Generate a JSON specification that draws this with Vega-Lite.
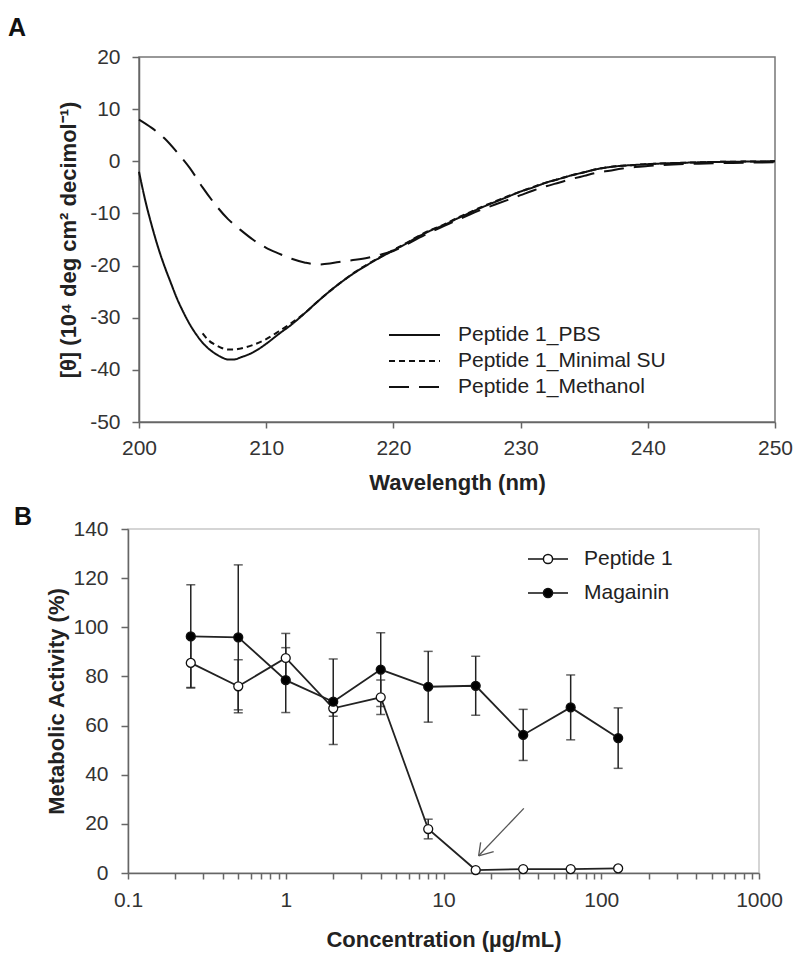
{
  "$schema": "https://vega.github.io/schema/vega-lite/v6.json",
  "background": "white",
  "padding": {"left": 7, "top": 15, "right": 5, "bottom": 5},
  "spacing": 10,
  "config": {
    "font": "Liberation Sans",
    "axis": {
      "labelFont": "Liberation Sans", "labelFontSize": 21, "labelColor": "#333",
      "titleFont": "Liberation Sans", "titleFontSize": 22, "titleFontWeight": "bold", "titleColor": "#222",
      "domainColor": "#666", "tickColor": "#666", "domainWidth": 1.5, "tickWidth": 1.5, "grid": false,
      "labelFlush": false
    },
    "legend": {"labelFont": "Liberation Sans", "labelFontSize": 21, "labelColor": "#222", "labelLimit": 400}
  },
  "datasets": {
    "cd": [
      {"wl": 200, "series": "Peptide 1_PBS", "v": -2.0},
      {"wl": 200.5, "series": "Peptide 1_PBS", "v": -7.6},
      {"wl": 201, "series": "Peptide 1_PBS", "v": -12.3},
      {"wl": 201.5, "series": "Peptide 1_PBS", "v": -16.5},
      {"wl": 202, "series": "Peptide 1_PBS", "v": -20.1},
      {"wl": 202.5, "series": "Peptide 1_PBS", "v": -23.3},
      {"wl": 203, "series": "Peptide 1_PBS", "v": -26.4},
      {"wl": 203.5, "series": "Peptide 1_PBS", "v": -29.0},
      {"wl": 204, "series": "Peptide 1_PBS", "v": -31.3},
      {"wl": 204.5, "series": "Peptide 1_PBS", "v": -33.2},
      {"wl": 205, "series": "Peptide 1_PBS", "v": -34.8},
      {"wl": 205.5, "series": "Peptide 1_PBS", "v": -36.0},
      {"wl": 206, "series": "Peptide 1_PBS", "v": -36.9},
      {"wl": 206.5, "series": "Peptide 1_PBS", "v": -37.6},
      {"wl": 207, "series": "Peptide 1_PBS", "v": -38.0},
      {"wl": 207.5, "series": "Peptide 1_PBS", "v": -38.0},
      {"wl": 208, "series": "Peptide 1_PBS", "v": -37.6},
      {"wl": 209, "series": "Peptide 1_PBS", "v": -36.6},
      {"wl": 210, "series": "Peptide 1_PBS", "v": -35.0},
      {"wl": 211, "series": "Peptide 1_PBS", "v": -33.1},
      {"wl": 212, "series": "Peptide 1_PBS", "v": -31.3},
      {"wl": 213, "series": "Peptide 1_PBS", "v": -29.2},
      {"wl": 214, "series": "Peptide 1_PBS", "v": -27.0},
      {"wl": 215, "series": "Peptide 1_PBS", "v": -24.9},
      {"wl": 216, "series": "Peptide 1_PBS", "v": -23.0},
      {"wl": 217, "series": "Peptide 1_PBS", "v": -21.3},
      {"wl": 218, "series": "Peptide 1_PBS", "v": -19.8},
      {"wl": 219, "series": "Peptide 1_PBS", "v": -18.4},
      {"wl": 220, "series": "Peptide 1_PBS", "v": -17.1},
      {"wl": 221, "series": "Peptide 1_PBS", "v": -15.8},
      {"wl": 222, "series": "Peptide 1_PBS", "v": -14.4},
      {"wl": 223, "series": "Peptide 1_PBS", "v": -13.2},
      {"wl": 224, "series": "Peptide 1_PBS", "v": -12.2},
      {"wl": 225, "series": "Peptide 1_PBS", "v": -11.0},
      {"wl": 226, "series": "Peptide 1_PBS", "v": -9.9},
      {"wl": 227, "series": "Peptide 1_PBS", "v": -8.8},
      {"wl": 228, "series": "Peptide 1_PBS", "v": -7.8},
      {"wl": 229, "series": "Peptide 1_PBS", "v": -6.8},
      {"wl": 230, "series": "Peptide 1_PBS", "v": -5.8},
      {"wl": 231, "series": "Peptide 1_PBS", "v": -5.0},
      {"wl": 232, "series": "Peptide 1_PBS", "v": -4.1},
      {"wl": 233, "series": "Peptide 1_PBS", "v": -3.4},
      {"wl": 234, "series": "Peptide 1_PBS", "v": -2.7},
      {"wl": 235, "series": "Peptide 1_PBS", "v": -2.1},
      {"wl": 236, "series": "Peptide 1_PBS", "v": -1.5},
      {"wl": 237, "series": "Peptide 1_PBS", "v": -1.1},
      {"wl": 238, "series": "Peptide 1_PBS", "v": -0.85},
      {"wl": 239, "series": "Peptide 1_PBS", "v": -0.7},
      {"wl": 240, "series": "Peptide 1_PBS", "v": -0.55},
      {"wl": 242, "series": "Peptide 1_PBS", "v": -0.35},
      {"wl": 244, "series": "Peptide 1_PBS", "v": -0.2},
      {"wl": 246, "series": "Peptide 1_PBS", "v": -0.1},
      {"wl": 248, "series": "Peptide 1_PBS", "v": -0.05},
      {"wl": 250, "series": "Peptide 1_PBS", "v": 0.0},

      {"wl": 205, "series": "Peptide 1_Minimal SU", "v": -33.0},
      {"wl": 205.5, "series": "Peptide 1_Minimal SU", "v": -34.4},
      {"wl": 206, "series": "Peptide 1_Minimal SU", "v": -35.2},
      {"wl": 206.5, "series": "Peptide 1_Minimal SU", "v": -35.8},
      {"wl": 207, "series": "Peptide 1_Minimal SU", "v": -36.1},
      {"wl": 207.5, "series": "Peptide 1_Minimal SU", "v": -36.1},
      {"wl": 208, "series": "Peptide 1_Minimal SU", "v": -35.9},
      {"wl": 209, "series": "Peptide 1_Minimal SU", "v": -35.2},
      {"wl": 210, "series": "Peptide 1_Minimal SU", "v": -34.1},
      {"wl": 211, "series": "Peptide 1_Minimal SU", "v": -32.6},
      {"wl": 212, "series": "Peptide 1_Minimal SU", "v": -31.0},
      {"wl": 213, "series": "Peptide 1_Minimal SU", "v": -29.2},
      {"wl": 214, "series": "Peptide 1_Minimal SU", "v": -27.0},
      {"wl": 215, "series": "Peptide 1_Minimal SU", "v": -24.9},
      {"wl": 216, "series": "Peptide 1_Minimal SU", "v": -23.0},
      {"wl": 217, "series": "Peptide 1_Minimal SU", "v": -21.2},
      {"wl": 218, "series": "Peptide 1_Minimal SU", "v": -19.7},
      {"wl": 219, "series": "Peptide 1_Minimal SU", "v": -18.3},
      {"wl": 220, "series": "Peptide 1_Minimal SU", "v": -17.0},
      {"wl": 221, "series": "Peptide 1_Minimal SU", "v": -15.7},
      {"wl": 222, "series": "Peptide 1_Minimal SU", "v": -14.3},
      {"wl": 223, "series": "Peptide 1_Minimal SU", "v": -13.1},
      {"wl": 224, "series": "Peptide 1_Minimal SU", "v": -12.1},
      {"wl": 225, "series": "Peptide 1_Minimal SU", "v": -10.9},
      {"wl": 226, "series": "Peptide 1_Minimal SU", "v": -9.8},
      {"wl": 227, "series": "Peptide 1_Minimal SU", "v": -8.7},
      {"wl": 228, "series": "Peptide 1_Minimal SU", "v": -7.7},
      {"wl": 229, "series": "Peptide 1_Minimal SU", "v": -6.7},
      {"wl": 230, "series": "Peptide 1_Minimal SU", "v": -5.8},
      {"wl": 231, "series": "Peptide 1_Minimal SU", "v": -4.9},
      {"wl": 232, "series": "Peptide 1_Minimal SU", "v": -4.1},
      {"wl": 233, "series": "Peptide 1_Minimal SU", "v": -3.4},
      {"wl": 234, "series": "Peptide 1_Minimal SU", "v": -2.7},
      {"wl": 235, "series": "Peptide 1_Minimal SU", "v": -2.1},
      {"wl": 236, "series": "Peptide 1_Minimal SU", "v": -1.5},
      {"wl": 237, "series": "Peptide 1_Minimal SU", "v": -1.1},
      {"wl": 238, "series": "Peptide 1_Minimal SU", "v": -0.85},
      {"wl": 239, "series": "Peptide 1_Minimal SU", "v": -0.7},
      {"wl": 240, "series": "Peptide 1_Minimal SU", "v": -0.55},
      {"wl": 242, "series": "Peptide 1_Minimal SU", "v": -0.35},
      {"wl": 244, "series": "Peptide 1_Minimal SU", "v": -0.2},
      {"wl": 246, "series": "Peptide 1_Minimal SU", "v": -0.1},
      {"wl": 248, "series": "Peptide 1_Minimal SU", "v": -0.05},
      {"wl": 250, "series": "Peptide 1_Minimal SU", "v": 0.0},

      {"wl": 200, "series": "Peptide 1_Methanol", "v": 8.0},
      {"wl": 201, "series": "Peptide 1_Methanol", "v": 6.4},
      {"wl": 202, "series": "Peptide 1_Methanol", "v": 4.4},
      {"wl": 203, "series": "Peptide 1_Methanol", "v": 1.7},
      {"wl": 204, "series": "Peptide 1_Methanol", "v": -1.3},
      {"wl": 205, "series": "Peptide 1_Methanol", "v": -5.0},
      {"wl": 206, "series": "Peptide 1_Methanol", "v": -8.3},
      {"wl": 207, "series": "Peptide 1_Methanol", "v": -11.1},
      {"wl": 208, "series": "Peptide 1_Methanol", "v": -13.2},
      {"wl": 209, "series": "Peptide 1_Methanol", "v": -15.1},
      {"wl": 210, "series": "Peptide 1_Methanol", "v": -16.6},
      {"wl": 211, "series": "Peptide 1_Methanol", "v": -17.7},
      {"wl": 212, "series": "Peptide 1_Methanol", "v": -18.7},
      {"wl": 213, "series": "Peptide 1_Methanol", "v": -19.4},
      {"wl": 214, "series": "Peptide 1_Methanol", "v": -19.8},
      {"wl": 215, "series": "Peptide 1_Methanol", "v": -19.6},
      {"wl": 216, "series": "Peptide 1_Methanol", "v": -19.2},
      {"wl": 217, "series": "Peptide 1_Methanol", "v": -18.9},
      {"wl": 218, "series": "Peptide 1_Methanol", "v": -18.5},
      {"wl": 219, "series": "Peptide 1_Methanol", "v": -17.9},
      {"wl": 220, "series": "Peptide 1_Methanol", "v": -17.2},
      {"wl": 221, "series": "Peptide 1_Methanol", "v": -16.0},
      {"wl": 222, "series": "Peptide 1_Methanol", "v": -14.7},
      {"wl": 223, "series": "Peptide 1_Methanol", "v": -13.5},
      {"wl": 224, "series": "Peptide 1_Methanol", "v": -12.4},
      {"wl": 225, "series": "Peptide 1_Methanol", "v": -11.3},
      {"wl": 226, "series": "Peptide 1_Methanol", "v": -10.2},
      {"wl": 227, "series": "Peptide 1_Methanol", "v": -9.2},
      {"wl": 228, "series": "Peptide 1_Methanol", "v": -8.3},
      {"wl": 229, "series": "Peptide 1_Methanol", "v": -7.4},
      {"wl": 230, "series": "Peptide 1_Methanol", "v": -6.5},
      {"wl": 231, "series": "Peptide 1_Methanol", "v": -5.6},
      {"wl": 232, "series": "Peptide 1_Methanol", "v": -4.8},
      {"wl": 233, "series": "Peptide 1_Methanol", "v": -4.1},
      {"wl": 234, "series": "Peptide 1_Methanol", "v": -3.4},
      {"wl": 235, "series": "Peptide 1_Methanol", "v": -2.8},
      {"wl": 236, "series": "Peptide 1_Methanol", "v": -2.2},
      {"wl": 237, "series": "Peptide 1_Methanol", "v": -1.8},
      {"wl": 238, "series": "Peptide 1_Methanol", "v": -1.4},
      {"wl": 239, "series": "Peptide 1_Methanol", "v": -1.1},
      {"wl": 240, "series": "Peptide 1_Methanol", "v": -0.9},
      {"wl": 242, "series": "Peptide 1_Methanol", "v": -0.6},
      {"wl": 244, "series": "Peptide 1_Methanol", "v": -0.45},
      {"wl": 246, "series": "Peptide 1_Methanol", "v": -0.35},
      {"wl": 248, "series": "Peptide 1_Methanol", "v": -0.25},
      {"wl": 250, "series": "Peptide 1_Methanol", "v": -0.2}
    ],
    "viability": [
      {"conc": 0.25, "series": "Peptide 1", "mean": 85.5, "lo": 75.5, "hi": 95.5},
      {"conc": 0.5, "series": "Peptide 1", "mean": 76.0, "lo": 65.2, "hi": 86.8},
      {"conc": 1, "series": "Peptide 1", "mean": 87.5, "lo": 77.5, "hi": 97.5},
      {"conc": 2, "series": "Peptide 1", "mean": 67.0, "lo": 63.8, "hi": 70.2},
      {"conc": 4, "series": "Peptide 1", "mean": 71.5, "lo": 64.5, "hi": 78.5},
      {"conc": 8, "series": "Peptide 1", "mean": 17.9, "lo": 13.9, "hi": 21.9},
      {"conc": 16, "series": "Peptide 1", "mean": 1.2, "lo": 0.7, "hi": 1.7},
      {"conc": 32, "series": "Peptide 1", "mean": 1.6, "lo": 1.1, "hi": 2.1},
      {"conc": 64, "series": "Peptide 1", "mean": 1.6, "lo": 1.1, "hi": 2.1},
      {"conc": 128, "series": "Peptide 1", "mean": 1.9, "lo": 1.4, "hi": 2.4},
      {"conc": 0.25, "series": "Magainin", "mean": 96.3, "lo": 75.3, "hi": 117.3},
      {"conc": 0.5, "series": "Magainin", "mean": 95.9, "lo": 66.4, "hi": 125.4},
      {"conc": 1, "series": "Magainin", "mean": 78.5, "lo": 65.3, "hi": 91.7},
      {"conc": 2, "series": "Magainin", "mean": 69.7, "lo": 52.3, "hi": 87.1},
      {"conc": 4, "series": "Magainin", "mean": 82.8, "lo": 67.8, "hi": 97.8},
      {"conc": 8, "series": "Magainin", "mean": 75.8, "lo": 61.4, "hi": 90.2},
      {"conc": 16, "series": "Magainin", "mean": 76.2, "lo": 64.2, "hi": 88.2},
      {"conc": 32, "series": "Magainin", "mean": 56.2, "lo": 45.8, "hi": 66.6},
      {"conc": 64, "series": "Magainin", "mean": 67.4, "lo": 54.2, "hi": 80.6},
      {"conc": 128, "series": "Magainin", "mean": 54.9, "lo": 42.6, "hi": 67.2}
    ],
    "arrow": [
      {"xa": 32.3, "ya": 26.3, "xb": 16.7, "yb": 7.0},
      {"xa": 16.7, "ya": 7.0, "xb": 17.2, "yb": 12.5},
      {"xa": 16.7, "ya": 7.0, "xb": 20.8, "yb": 8.7}
    ]
  },
  "vconcat": [
    {
      "bounds": "flush",
      "spacing": 10,
      "hconcat": [
        {
          "width": 1,
          "height": 1,
          "view": {"stroke": null},
          "data": {"values": []},
          "mark": {"type": "point", "opacity": 0},
          "encoding": {}
        },
        {
          "width": 636,
          "height": 365,
          "title": {"text": "A", "anchor": "start", "frame": "group", "dx": -131, "offset": 5, "fontSize": 25, "fontWeight": "bold", "color": "#111", "font": "Liberation Sans"},
          "view": {"stroke": "#777", "strokeWidth": 1.5},
          "data": {"name": "cd"},
          "mark": {"type": "line", "interpolate": "monotone", "color": "#111", "strokeWidth": 2},
          "encoding": {
            "x": {
              "field": "wl", "type": "quantitative",
              "scale": {"domain": [200, 250], "nice": false, "zero": false},
              "axis": {"title": "Wavelength (nm)", "values": [200, 210, 220, 230, 240, 250], "tickSize": 6, "labelPadding": 9, "titlePadding": 14}
            },
            "y": {
              "field": "v", "type": "quantitative",
              "scale": {"domain": [-50, 20], "nice": false, "zero": false},
              "axis": {"title": "[θ] (10⁴ deg cm² decimol⁻¹)", "values": [-50, -40, -30, -20, -10, 0, 10, 20], "tickSize": 7, "labelPadding": 12, "titlePadding": 9, "labelExpr": "replace(datum.label, '−', '-')"}
            },
            "strokeDash": {
              "field": "series", "type": "nominal",
              "scale": {"domain": ["Peptide 1_PBS", "Peptide 1_Minimal SU", "Peptide 1_Methanol"], "range": [[1, 0], [6, 4], [20, 10]]},
              "legend": {"title": null, "orient": "none", "legendX": 260, "legendY": 265, "padding": 0, "rowPadding": 0, "clipHeight": 26, "symbolType": "stroke", "symbolSize": 2600, "symbolStrokeWidth": 2, "symbolStrokeColor": "#111", "labelOffset": 17, "labelFontSize": 21}
            }
          }
        }
      ]
    },
    {
      "width": 631,
      "height": 344,
      "title": {"text": "B", "anchor": "start", "frame": "group", "dx": -114, "offset": -12, "fontSize": 25, "fontWeight": "bold", "color": "#111", "font": "Liberation Sans"},
      "view": {"stroke": "#c8c8c8", "strokeWidth": 1.5},
      "encoding": {
        "x": {
          "field": "conc", "type": "quantitative",
          "scale": {"type": "log", "domain": [0.1, 1000], "nice": false},
          "axis": {
            "title": "Concentration (µg/mL)",
            "values": [0.1, 0.2, 0.3, 0.4, 0.5, 0.6, 0.7, 0.8, 0.9, 1, 2, 3, 4, 5, 6, 7, 8, 9, 10, 20, 30, 40, 50, 60, 70, 80, 90, 100, 200, 300, 400, 500, 600, 700, 800, 900, 1000],
            "format": "~g",
            "labelExpr": "indexof([0.1, 1, 10, 100, 1000], datum.value) >= 0 ? datum.label : ''",
            "labelOverlap": false,
            "tickSize": 6, "labelPadding": 10, "titlePadding": 19
          }
        }
      },
      "layer": [
        {
          "data": {"name": "arrow"},
          "mark": {"type": "rule", "color": "#555", "strokeWidth": 1.3},
          "encoding": {
            "x": {"field": "xa", "type": "quantitative"},
            "y": {"field": "ya", "type": "quantitative"},
            "x2": {"field": "xb"},
            "y2": {"field": "yb"}
          }
        },
        {
          "data": {"name": "viability"},
          "mark": {"type": "rule", "color": "#222", "strokeWidth": 1.5},
          "encoding": {
            "y": {
              "field": "lo", "type": "quantitative",
              "scale": {"domain": [0, 140], "nice": false},
              "axis": {"title": "Metabolic Activity (%)", "values": [0, 20, 40, 60, 80, 100, 120, 140], "tickSize": 7, "labelPadding": 13, "titlePadding": 4}
            },
            "y2": {"field": "hi"}
          }
        },
        {
          "data": {"name": "viability"},
          "mark": {"type": "tick", "orient": "horizontal", "color": "#222", "size": 9, "thickness": 1.5},
          "encoding": {"y": {"field": "lo", "type": "quantitative"}}
        },
        {
          "data": {"name": "viability"},
          "mark": {"type": "tick", "orient": "horizontal", "color": "#222", "size": 9, "thickness": 1.5},
          "encoding": {"y": {"field": "hi", "type": "quantitative"}}
        },
        {
          "data": {"name": "viability"},
          "mark": {"type": "line", "color": "#222", "strokeWidth": 1.8},
          "encoding": {
            "y": {"field": "mean", "type": "quantitative"},
            "detail": {"field": "series", "type": "nominal"}
          }
        },
        {
          "data": {"name": "viability"},
          "mark": {"type": "point", "filled": true, "stroke": "#111", "strokeWidth": 1.3, "size": 80, "opacity": 1},
          "encoding": {
            "y": {"field": "mean", "type": "quantitative"},
            "fill": {
              "field": "series", "type": "nominal",
              "scale": {"domain": ["Peptide 1", "Magainin"], "range": ["white", "black"]},
              "legend": {"title": null, "orient": "none", "legendX": 399, "legendY": 485, "padding": 0, "rowPadding": 0, "clipHeight": 34, "symbolType": "M-1,0H-0.23M0.23,0H1M0.23,0A0.23,0.23,0,1,1,-0.23,0A0.23,0.23,0,1,1,0.23,0Z", "symbolSize": 1600, "symbolStrokeColor": "#111", "symbolStrokeWidth": 1.5, "symbolOpacity": 1, "labelOffset": 15, "labelFontSize": 21}
            }
          }
        }
      ]
    }
  ]
}
